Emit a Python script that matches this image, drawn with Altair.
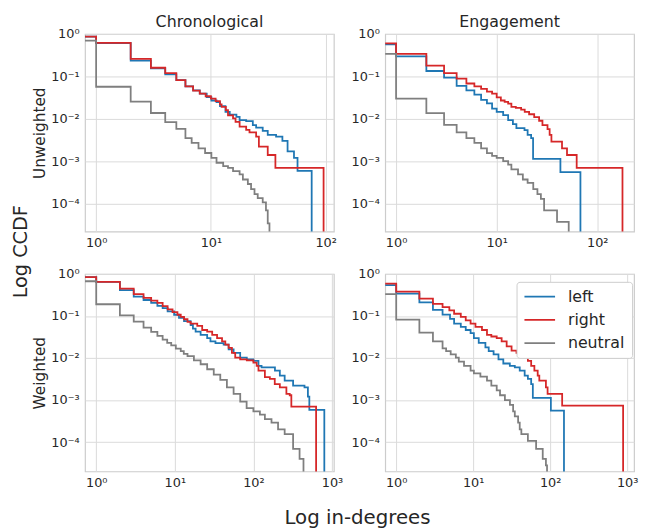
import altair as alt
import pandas as pd

SERIES = ["left", "right", "neutral"]
COLORS = ["#1f77b4", "#d62728", "#7f7f7f"]
FLOOR = 1e-7  # stands for CCDF = 0 (drawn below the axis)

# ---------- Chronological / Unweighted ----------
CU_LEFT_X = [0.5, 1, 2, 3, 4, 5, 6, 7, 8, 9.2, 10.1, 11.2, 12, 13.4, 14.6, 16.7, 17.8, 20.3, 23.2, 24.8, 28.3, 31.3, 37, 42, 46.6, 53, 56.9, 75.6]
CU_LEFT_Y = [0.87, 0.61, 0.235, 0.155, 0.112, 0.082, 0.058, 0.047, 0.039, 0.0325, 0.027, 0.0248, 0.020, 0.0146, 0.0126, 0.0111, 0.0093, 0.0088, 0.0071, 0.0062, 0.0052, 0.0042, 0.0038, 0.0030, 0.0017, 0.0012, 0.00059, 0]
CU_RIGHT_X = [0.5, 1, 2, 3, 4, 5, 6, 7, 8, 9, 10, 11, 12, 12.4, 13.5, 14.1, 15.6, 16.4, 17.8, 20.3, 21.7, 24.8, 26.2, 31.3, 36.5, 96]
CU_RIGHT_Y = [0.87, 0.62, 0.26, 0.16, 0.12, 0.082, 0.058, 0.046, 0.039, 0.034, 0.030, 0.026, 0.022, 0.019, 0.016, 0.012, 0.0102, 0.0085, 0.0065, 0.0055, 0.0048, 0.0038, 0.0022, 0.0014, 0.0007, 0]
CU_NEUT_X = [0.5, 1, 2, 3, 4, 5, 6, 6.8, 7.8, 8.9, 10.1, 11.2, 12.8, 14.1, 15.6, 17.8, 19, 21, 22.4, 24, 25.6, 28.3, 30.2, 31.3, 32.4]
CU_NEUT_Y = [0.70, 0.057, 0.0255, 0.0137, 0.0083, 0.0058, 0.0035, 0.0027, 0.0020, 0.00156, 0.0012, 0.00092, 0.00077, 0.0007, 0.00058, 0.00049, 0.00037, 0.00029, 0.00022, 0.000168, 0.000135, 0.000107, 0.000069, 0.000034, 0]

# ---------- Engagement / Unweighted ----------
EU_LEFT_X = [0.5, 1, 2, 3, 4, 5, 6, 7, 8, 9, 10, 11.6, 13, 14.5, 15.7, 18.9, 20.3, 22, 23, 43, 68]
EU_LEFT_Y = [0.57, 0.295, 0.134, 0.094, 0.060, 0.047, 0.037, 0.028, 0.023, 0.0174, 0.0146, 0.0122, 0.0093, 0.0075, 0.006, 0.0054, 0.0042, 0.0035, 0.00113, 0.00055, 0]
EU_RIGHT_X = [0.5, 1, 2, 3, 4, 5, 6, 7, 8, 9, 10, 11, 12, 13, 14, 15.5, 17.5, 19, 21, 23.6, 26.4, 28.5, 32, 33.6, 35, 44.6, 50, 62.4, 178]
EU_RIGHT_Y = [0.60, 0.34, 0.18, 0.12, 0.089, 0.068, 0.058, 0.051, 0.044, 0.039, 0.032, 0.027, 0.025, 0.0228, 0.019, 0.018, 0.0165, 0.0146, 0.0128, 0.011, 0.009, 0.0071, 0.0057, 0.0042, 0.0029, 0.0020, 0.0014, 0.0007, 0]
EU_NEUT_X = [0.5, 1, 2, 3, 4, 5, 6, 7, 8, 9, 10, 11.6, 13, 14, 16.3, 18.2, 20.3, 23.1, 25.4, 27.5, 29.6, 39.8, 52]
EU_NEUT_Y = [0.34, 0.030, 0.0136, 0.0072, 0.0048, 0.0035, 0.0027, 0.0020, 0.00155, 0.00134, 0.0012, 0.001, 0.00083, 0.00064, 0.00049, 0.00037, 0.00031, 0.00022, 0.000168, 0.000129, 0.000069, 0.000037, 0]

# ---------- Chronological / Weighted ----------
CW_LEFT_X = [0.5, 1, 2, 3, 4, 5, 6, 7, 8.1, 9.8, 11.3, 13.1, 15.9, 17, 18.4, 21.3, 25.8, 28.4, 32.9, 41.8, 48.4, 56, 67.9, 82.4, 100, 116, 127, 188, 217, 250, 320, 447, 494, 515, 799]
CW_LEFT_Y = [0.84, 0.65, 0.41, 0.29, 0.24, 0.205, 0.175, 0.154, 0.129, 0.107, 0.09, 0.075, 0.061, 0.05, 0.0425, 0.0355, 0.0297, 0.0248, 0.0227, 0.0208, 0.016, 0.0133, 0.0102, 0.0093, 0.0085, 0.0065, 0.006, 0.005, 0.0038, 0.0029, 0.0022, 0.002, 0.0012, 0.00058, 0]
CW_RIGHT_X = [0.5, 1, 2, 3, 4, 5, 6, 7, 8.1, 9.35, 10.8, 11.9, 13.1, 14.5, 15.9, 19.3, 22.3, 25.8, 29.9, 34.5, 39.9, 43.9, 48.4, 53.3, 58.7, 67.9, 82.4, 100, 110, 116, 140, 162, 187, 217, 263, 290, 304, 628]
CW_RIGHT_Y = [0.84, 0.65, 0.45, 0.33, 0.27, 0.231, 0.204, 0.171, 0.143, 0.124, 0.107, 0.095, 0.0836, 0.0725, 0.066, 0.0585, 0.0464, 0.0425, 0.0355, 0.0297, 0.0248, 0.0208, 0.0174, 0.0133, 0.0102, 0.0093, 0.0088, 0.0078, 0.0065, 0.005, 0.0035, 0.0032, 0.0024, 0.002, 0.0014, 0.0013, 0.0007, 0]
CW_NEUT_X = [0.5, 1, 2, 3, 4, 5, 6, 7, 8, 9, 10.3, 11.9, 13, 14.5, 17.5, 21.3, 25.8, 31.3, 37.9, 46, 56, 68, 82, 100, 121, 140, 170, 206, 250, 320, 387, 434]
CW_NEUT_Y = [0.67, 0.19, 0.104, 0.073, 0.053, 0.042, 0.0335, 0.0275, 0.023, 0.02, 0.0168, 0.0146, 0.0125, 0.0111, 0.0088, 0.0071, 0.0054, 0.004, 0.003, 0.002, 0.0014, 0.00092, 0.00064, 0.00054, 0.00045, 0.00035, 0.00029, 0.0002, 0.000154, 0.000069, 0.00004, 0]

# ---------- Engagement / Weighted ----------
EW_LEFT_X = [0.5, 1, 2, 3, 4, 5, 5.65, 6.9, 8, 9.25, 10.2, 11.8, 14.4, 15.9, 18.4, 21.3, 24.6, 29.9, 34.7, 40.2, 46.6, 51.3, 56.6, 59.5, 102, 151]
EW_LEFT_Y = [0.545, 0.34, 0.21, 0.14, 0.108, 0.085, 0.066, 0.055, 0.0464, 0.039, 0.0297, 0.0228, 0.018, 0.0146, 0.0122, 0.0093, 0.0074, 0.0065, 0.006, 0.005, 0.0038, 0.0032, 0.0024, 0.00113, 0.00056, 0]
EW_RIGHT_X = [0.5, 1, 2, 3, 4, 4.9, 5.65, 6.9, 8, 9.25, 10.7, 13, 15.1, 17.2, 20.2, 23.4, 27.2, 31.5, 36.5, 44.3, 51.3, 56.6, 62.3, 68.8, 72.2, 88, 92.5, 143, 885]
EW_RIGHT_Y = [0.585, 0.38, 0.26, 0.193, 0.162, 0.136, 0.113, 0.095, 0.079, 0.066, 0.055, 0.0464, 0.0355, 0.0325, 0.0297, 0.0248, 0.019, 0.015, 0.0133, 0.0111, 0.0085, 0.0065, 0.005, 0.0038, 0.0029, 0.002, 0.0014, 0.00074, 0]
EW_NEUT_X = [0.5, 1, 2, 3, 4, 4.45, 5.1, 5.95, 6.5, 7.6, 9.25, 10.2, 12.4, 15.1, 17.2, 20.2, 22.3, 25.8, 30, 33, 34.7, 38.3, 40.2, 42.2, 51.3, 65.6, 80, 88, 91]
EW_NEUT_Y = [0.33, 0.082, 0.040, 0.025, 0.017, 0.0146, 0.0122, 0.0102, 0.0082, 0.0065, 0.005, 0.0043, 0.0036, 0.0029, 0.0022, 0.0017, 0.0013, 0.001, 0.00077, 0.00054, 0.00041, 0.00029, 0.0002, 0.000154, 0.000107, 0.000069, 0.00004, 0.000028, 0]

# axis domains / ticks
X_DOM_CU = [0.80, 118]
X_DOM_EU = [0.78, 232]
X_DOM_CW = [0.72, 1057]
X_DOM_EW = [0.72, 1228]
Y_DOM_TOP = [2.2e-5, 1]
Y_DOM_BOT = [2.0e-5, 1]
X_TICKS_TOP = [1, 10, 100]
X_TICKS_BOT = [1, 10, 100, 1000]
Y_TICKS = [1, 0.1, 0.01, 0.001, 0.0001]

SUP = {"-": "\u207b", "0": "\u2070", "1": "\u00b9", "2": "\u00b2", "3": "\u00b3", "4": "\u2074"}
TXT = "#262626"
FONT = "DejaVu Sans"


def label_expr(exps):
    parts = []
    for e in exps:
        s = "10" + "".join(SUP[c] for c in str(e))
        parts.append(f"abs(log(datum.value)/LN10 - ({e})) < 0.01 ? '{s}' : ")
    return "".join(parts) + "''"


def frame(left, right, neut):
    rows = []
    for name, (xs, ys) in zip(SERIES, [left, right, neut]):
        for i, (x, y) in enumerate(zip(xs, ys)):
            rows.append({"deg": x, "ccdf": y if y > 0 else FLOOR, "series": name, "idx": i})
    return pd.DataFrame(rows)


def panel(df, xdom, xticks, ydom, col_title=None, row_title=None, legend=False):
    xaxis = alt.Axis(values=xticks, labelExpr=label_expr([0, 1, 2, 3]), title=None,
                     labelFlush=False, labelPadding=5)
    if row_title:
        yaxis = alt.Axis(values=Y_TICKS, labelExpr=label_expr([0, -1, -2, -3, -4]),
                         title=row_title, titlePadding=3, labelPadding=6)
    else:
        yaxis = alt.Axis(values=Y_TICKS, labelExpr=label_expr([0, -1, -2, -3, -4]),
                         title=None, labelPadding=6)
    if legend:
        leg = alt.Legend(title=None, orient="none", legendX=133, legendY=8,
                         fillColor="white", strokeColor="#cccccc", cornerRadius=3,
                         padding=7, symbolType="stroke", symbolSize=961,
                         symbolStrokeWidth=1.8, labelFontSize=16, labelColor=TXT,
                         labelFont=FONT, labelOffset=12, clipHeight=16, rowPadding=7.5)
        color = alt.Color("series:N", scale=alt.Scale(domain=SERIES, range=COLORS), legend=leg)
    else:
        color = alt.Color("series:N", scale=alt.Scale(domain=SERIES, range=COLORS), legend=None)
    ch = alt.Chart(df).mark_line(interpolate="step-after", clip=True, strokeWidth=1.8).encode(
        x=alt.X("deg:Q", scale=alt.Scale(type="log", domain=xdom, nice=False), axis=xaxis),
        y=alt.Y("ccdf:Q", scale=alt.Scale(type="log", domain=ydom, nice=False), axis=yaxis),
        color=color,
        order="idx:Q",
        detail="series:N",
    )
    if col_title:
        ch = ch.properties(width=252, height=200,
                           title=alt.TitleParams(text=col_title, fontSize=16, font=FONT,
                                                 fontWeight="normal", color=TXT, offset=-2))
    else:
        ch = ch.properties(width=252, height=200)
    return ch


p1 = panel(frame((CU_LEFT_X, CU_LEFT_Y), (CU_RIGHT_X, CU_RIGHT_Y), (CU_NEUT_X, CU_NEUT_Y)),
           X_DOM_CU, X_TICKS_TOP, Y_DOM_TOP, col_title="Chronological", row_title="Unweighted")
p2 = panel(frame((EU_LEFT_X, EU_LEFT_Y), (EU_RIGHT_X, EU_RIGHT_Y), (EU_NEUT_X, EU_NEUT_Y)),
           X_DOM_EU, X_TICKS_TOP, Y_DOM_TOP, col_title="Engagement")
p3 = panel(frame((CW_LEFT_X, CW_LEFT_Y), (CW_RIGHT_X, CW_RIGHT_Y), (CW_NEUT_X, CW_NEUT_Y)),
           X_DOM_CW, X_TICKS_BOT, Y_DOM_BOT, row_title="Weighted")
p4 = panel(frame((EW_LEFT_X, EW_LEFT_Y), (EW_RIGHT_X, EW_RIGHT_Y), (EW_NEUT_X, EW_NEUT_Y)),
           X_DOM_EW, X_TICKS_BOT, Y_DOM_BOT, legend=True)

grid = alt.concat(p1, p2, p3, p4, columns=2, spacing={"row": 43, "column": 52},
                  bounds="flush").resolve_scale(color="independent").properties(
    title=alt.TitleParams(text="Log CCDF", orient="left", anchor="middle", fontSize=19.5,
                          font=FONT, fontWeight="normal", color=TXT, offset=1))

chart = alt.vconcat(grid).properties(
    title=alt.TitleParams(text="Log in-degrees", orient="bottom", anchor="middle", fontSize=20,
                          font=FONT, fontWeight="normal", color=TXT, offset=19, dx=33),
    padding={"left": 3, "top": 2, "right": 0, "bottom": 0},
    background="white",
).configure_view(stroke="#cccccc", strokeWidth=1.2).configure_axis(
    gridColor="#dadada", gridWidth=1, ticks=False, domain=False,
    labelColor=TXT, labelFont=FONT, labelFontSize=13,
    titleColor=TXT, titleFont=FONT, titleFontSize=15.5, titleFontWeight="normal",
)

chart.save("out.html", embed_options={"renderer": "svg", "actions": False})
